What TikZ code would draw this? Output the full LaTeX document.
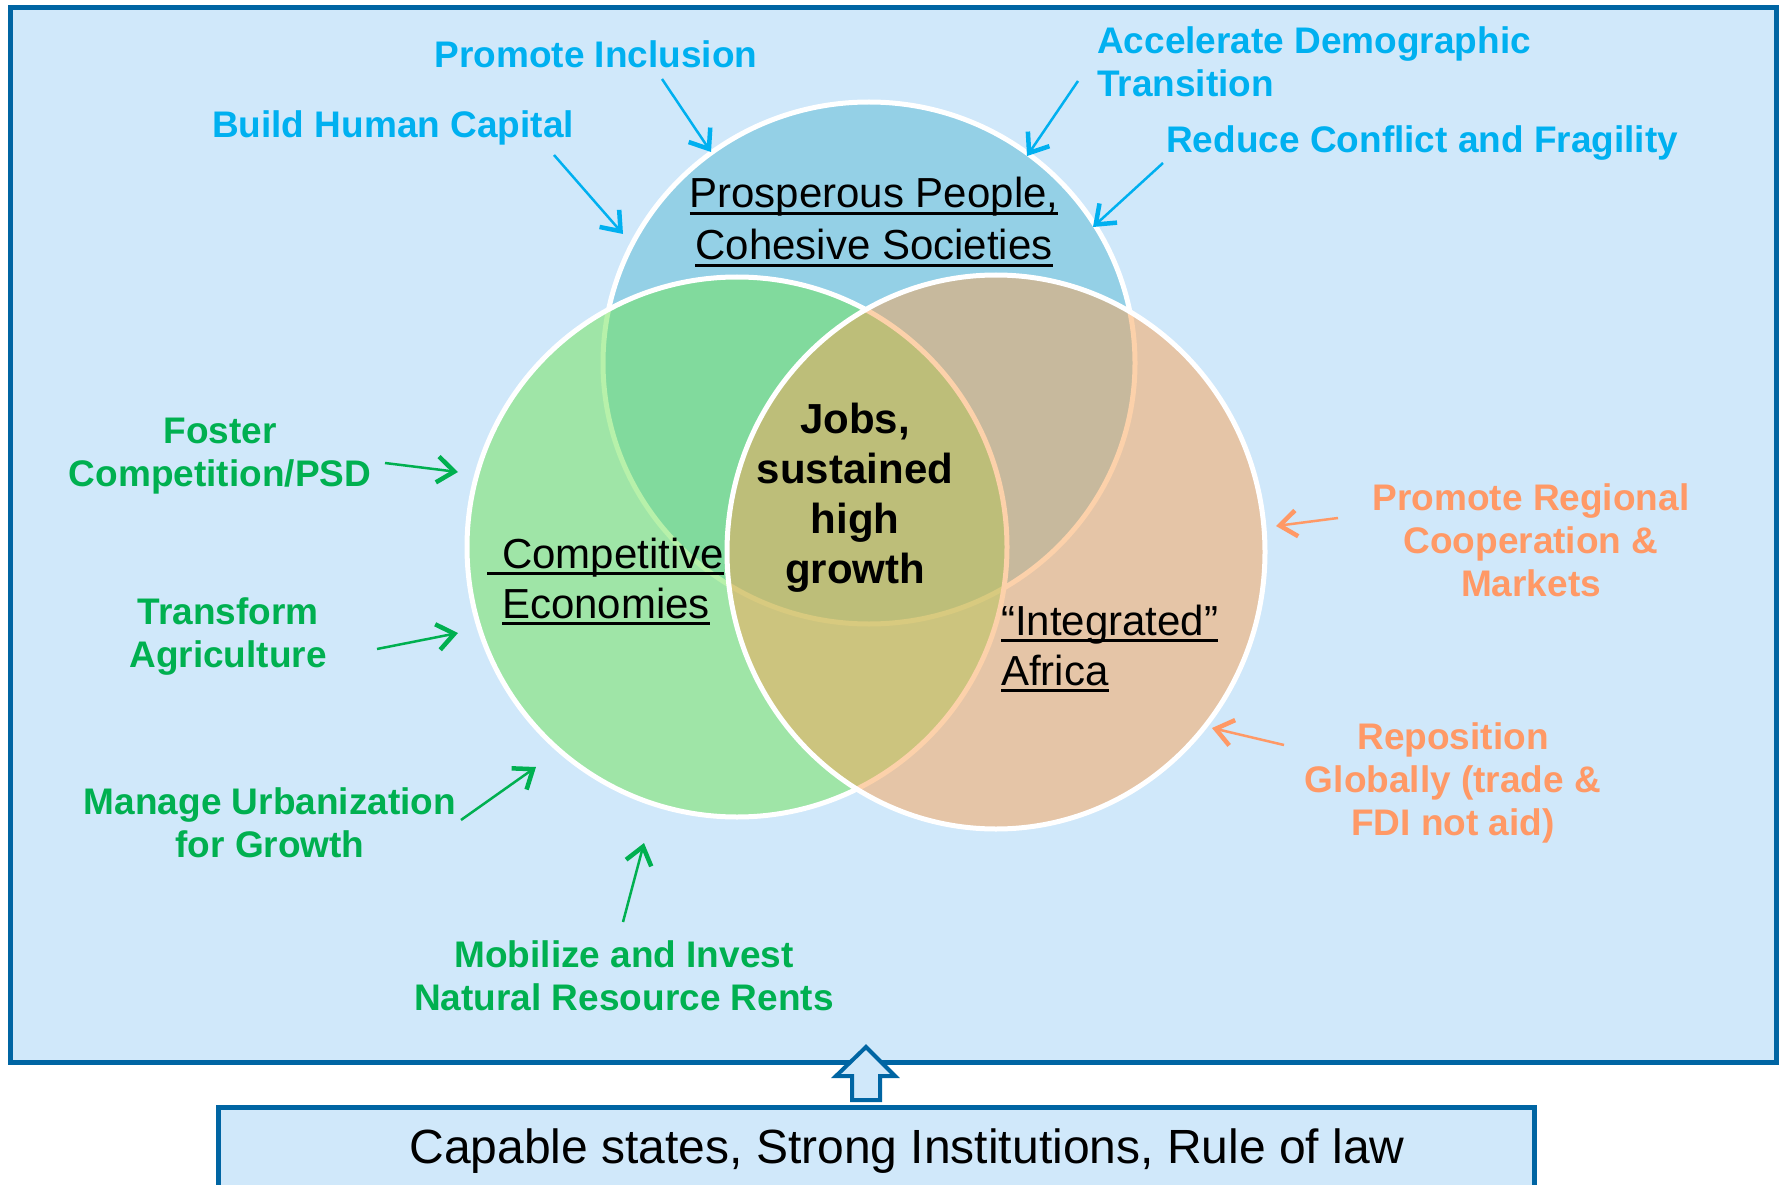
\documentclass[tikz,border=0pt]{standalone}
\usepackage{fontspec}
\setmainfont{Liberation Sans}
\usetikzlibrary{arrows.meta}
\definecolor{frameblue}{RGB}{0,101,163}
\definecolor{bgblue}{RGB}{208,232,250}
\definecolor{cblue}{RGB}{148,208,230}
\definecolor{cgreen}{RGB}{112,228,86}
\definecolor{corange}{RGB}{250,164,86}
\definecolor{tblue}{RGB}{0,176,240}
\definecolor{tgreen}{RGB}{0,176,80}
\definecolor{torange}{RGB}{255,153,102}
\newsavebox\ulbox
\newcommand\myul[1]{\sbox\ulbox{#1}\rlap{\rule[-7pt]{\wd\ulbox}{3pt}}\usebox\ulbox}
\begin{document}
\begin{tikzpicture}[x=1pt,y=-1pt,
  lab/.style={font=\fontsize{37}{43}\selectfont\bfseries, inner sep=0pt, align=center},
  lblue/.style={lab, text=tblue},
  lgreen/.style={lab, text=tgreen},
  lorange/.style={lab, text=torange},
  title/.style={font=\fontsize{42}{50}\selectfont, inner sep=0pt},
  barb/.style={line width=2.5pt, -{Straight Barb[length=17pt,width=26pt,line width=4.5pt]}},
  venn/.style={draw=white, line width=5pt},
  frame/.style={draw=frameblue, line width=5pt, fill=bgblue}]
\useasboundingbox (0,0) rectangle (1781,1185);
\fill[white] (0,0) rectangle (1781,1185);
% outer frame
\draw[frame] (10,8) rectangle (1776,1062);
% circles
\draw[venn, fill=cblue] (869,363) ellipse[x radius=266pt, y radius=261pt];
\draw[venn, fill=cgreen, fill opacity=.5] (737,547) circle[radius=270pt];
\draw[venn, fill=corange, fill opacity=.5] (996,552) ellipse[x radius=269pt, y radius=277pt];
% titles in circles (base anchor = baseline of last line)
\node[title, align=center, anchor=base] (pp) at (874,260) {\myul{Prosperous People,}\\[2pt]\myul{Cohesive Societies}};
\node[title, align=left, anchor=base west] (ce) at (502,618) {\llap{\rule[-7pt]{15pt}{3pt}}\myul{Competitive}\\\myul{Economies}};
\node[title, align=left, anchor=base west] (ia) at (1001,685) {\myul{“Integrated”}\\\myul{Africa}};
\node[title, font=\fontsize{42}{50}\selectfont\bfseries, align=center, anchor=base] (jobs) at (855,583) {Jobs,\\sustained\\high\\growth};
% blue labels
\node[lblue, anchor=base] (pi) at (596,68) {Promote Inclusion};
\node[lblue, anchor=base] (bhc) at (393,138) {Build Human Capital};
\node[lblue, align=left, anchor=base west] (adt) at (1097,97) {Accelerate Demographic\\Transition};
\node[lblue, anchor=base west] (rcf) at (1166,153) {Reduce Conflict and Fragility};
% green labels
\node[lgreen, anchor=base] (fc) at (220,486) {Foster\\Competition/PSD};
\node[lgreen, anchor=base] (ta) at (228,667) {Transform\\Agriculture};
\node[lgreen, anchor=base] (mu) at (270,857) {Manage Urbanization\\for Growth};
\node[lgreen, anchor=base] (mi) at (624,1010) {Mobilize and Invest\\Natural Resource Rents};
% orange labels
\node[lorange, anchor=base] (prc) at (1531,596) {Promote Regional\\Cooperation \&\\Markets};
\node[lorange, anchor=base] (rg) at (1453,835) {Reposition\\Globally (trade \&\\FDI not aid)};
% arrow end points
\coordinate (piS) at (662,79);   \coordinate (piE) at (711,152);
\coordinate (bhcS) at (554,155); \coordinate (bhcE) at (623,234);
\coordinate (adtS) at (1078,81); \coordinate (adtE) at (1027,156);
\coordinate (rcfS) at (1163,163);\coordinate (rcfE) at (1093,227);
\coordinate (fcS) at (385,463);  \coordinate (fcE) at (458,472);
\coordinate (taS) at (377,649);  \coordinate (taE) at (458,633);
\coordinate (muS) at (461,820);  \coordinate (muE) at (536,767);
\coordinate (miS) at (623,922);  \coordinate (miE) at (644,843);
\coordinate (prcS) at (1338,518);\coordinate (prcE) at (1276,526);
\coordinate (rgS) at (1284,745); \coordinate (rgE) at (1212,728);
\draw[barb, tblue] (piS) -- (piE);
\draw[barb, tblue] (bhcS) -- (bhcE);
\draw[barb, tblue] (adtS) -- (adtE);
\draw[barb, tblue] (rcfS) -- (rcfE);
\draw[barb, tgreen] (fcS) -- (fcE);
\draw[barb, tgreen] (taS) -- (taE);
\draw[barb, tgreen] (muS) -- (muE);
\draw[barb, tgreen] (miS) -- (miE);
\draw[barb, torange] (prcS) -- (prcE);
\draw[barb, torange] (rgS) -- (rgE);
% foundation box
\draw[frame] (218,1107) rectangle (1534,1240);
\node[font=\fontsize{48}{56}\selectfont, inner sep=0pt, anchor=base] (cap) at (907,1163) {Capable states, Strong Institutions, Rule of law};
% block arrow
\draw[draw=frameblue, line width=4pt, fill=bgblue, line join=miter]
  (866,1047) -- (895,1076) -- (880,1076) -- (880,1100) -- (852,1100) -- (852,1076) -- (836,1076) -- cycle;
\end{tikzpicture}
\end{document}
